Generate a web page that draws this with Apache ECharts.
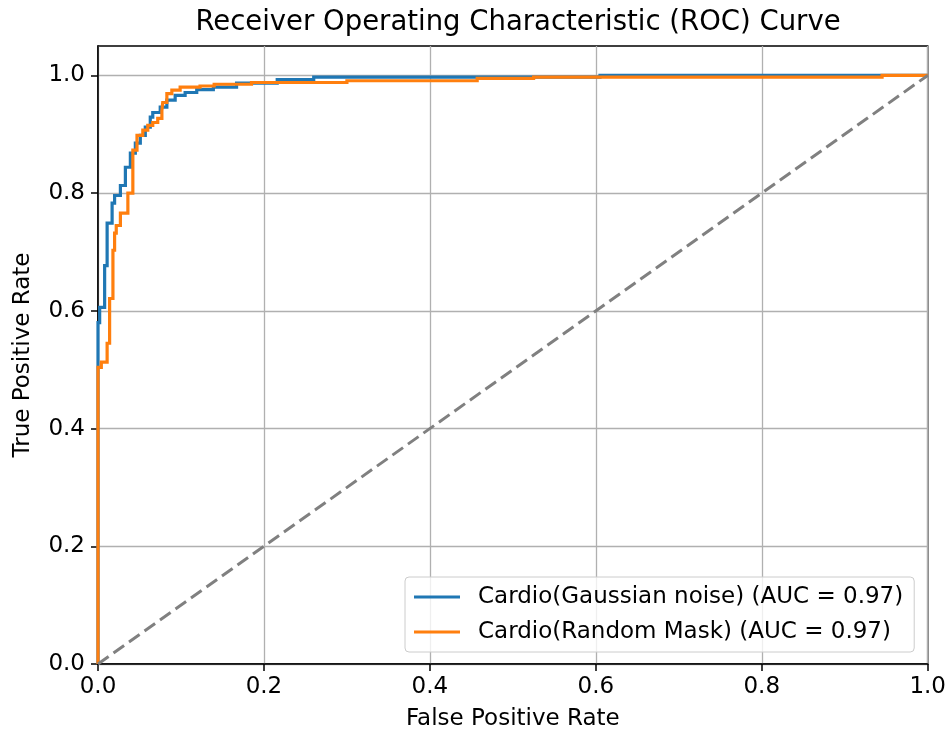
<!DOCTYPE html>
<html>
<head>
<meta charset="utf-8">
<script src="https://cdn.jsdelivr.net/npm/echarts@6/dist/echarts.min.js"></script>
<style>
  html, body { margin: 0; padding: 0; background: #fff; }
  #chart { width: 949px; height: 738px; }
</style>
</head>
<body>
<div id="chart"></div>
<script>
// ---- Data ----
const chartTitle = 'Receiver Operating Characteristic (ROC) Curve';
const xName = 'False Positive Rate';
const yName = 'True Positive Rate';
const tickValues = [0, 0.2, 0.4, 0.6, 0.8, 1.0];

const gaussName = 'Cardio(Gaussian noise) (AUC = 0.97)';
const gaussFpr = [0, 0, 0.002, 0.002, 0.008, 0.008, 0.011, 0.011, 0.017, 0.017, 0.020, 0.020, 0.027, 0.027,
  0.033, 0.033, 0.039, 0.039, 0.045, 0.045, 0.051, 0.051, 0.057, 0.057, 0.063, 0.063, 0.066, 0.066,
  0.075, 0.075, 0.083, 0.083, 0.093, 0.093, 0.105, 0.105, 0.119, 0.119, 0.139, 0.139, 0.167, 0.167,
  0.216, 0.216, 0.260, 0.260, 0.605, 0.605, 1.0];
const gaussTpr = [0, 0.580, 0.580, 0.606, 0.606, 0.677, 0.677, 0.749, 0.749, 0.783, 0.783, 0.796, 0.796, 0.813,
  0.813, 0.844, 0.844, 0.868, 0.868, 0.885, 0.885, 0.898, 0.898, 0.912, 0.912, 0.929, 0.929, 0.937,
  0.937, 0.946, 0.946, 0.958, 0.958, 0.966, 0.966, 0.971, 0.971, 0.976, 0.976, 0.980, 0.980, 0.987,
  0.987, 0.993, 0.993, 0.997, 0.997, 1.0, 1.0];

const maskName = 'Cardio(Random Mask) (AUC = 0.97)';
const maskFpr = [0, 0, 0.004, 0.004, 0.011, 0.011, 0.014, 0.014, 0.018, 0.018, 0.020, 0.020, 0.022, 0.022,
  0.027, 0.027, 0.036, 0.036, 0.042, 0.042, 0.047, 0.047, 0.054, 0.054, 0.060, 0.060, 0.066, 0.066,
  0.072, 0.072, 0.077, 0.077, 0.078, 0.083, 0.083, 0.089, 0.089, 0.099, 0.099, 0.123, 0.123, 0.140, 0.140,
  0.185, 0.185, 0.300, 0.300, 0.457, 0.457, 0.525, 0.525, 0.945, 0.945, 1.0];
const maskTpr = [0, 0.504, 0.504, 0.513, 0.513, 0.545, 0.545, 0.621, 0.621, 0.703, 0.703, 0.732, 0.732, 0.745,
  0.745, 0.766, 0.766, 0.800, 0.800, 0.873, 0.873, 0.898, 0.898, 0.907, 0.907, 0.915, 0.915, 0.920,
  0.920, 0.927, 0.927, 0.940, 0.954, 0.954, 0.969, 0.969, 0.975, 0.975, 0.980, 0.980, 0.982, 0.982, 0.985,
  0.985, 0.988, 0.988, 0.991, 0.991, 0.995, 0.995, 0.997, 0.997, 1.0, 1.0];

const chanceX = [0, 1];
const chanceY = [0, 1];

// ---- Build chart ----
const zip = (xs, ys) => xs.map((x, i) => [x, ys[i]]);
const FONT = 'DejaVu Sans';
const fmt = v => Number(v).toFixed(1);

const chart = echarts.init(document.getElementById('chart'), null, { renderer: 'canvas' });
chart.setOption({
  animation: false,
  backgroundColor: '#ffffff',
  title: {
    text: chartTitle,
    left: 513,
    top: 4,
    textAlign: 'center',
    textStyle: { fontFamily: FONT, fontSize: 27.5, fontWeight: 'normal', color: '#000' }
  },
  grid: {
    left: 98, right: 21, top: 46, bottom: 74,
    containLabel: false,
    show: true,
    borderColor: '#000',
    borderWidth: 1.5,
    backgroundColor: 'transparent'
  },
  legend: {
    orient: 'vertical',
    left: 405,
    top: 577,
    padding: [8.5, 11, 8.5, 9],
    itemGap: 12,
    itemWidth: 46,
    itemHeight: 3,
    backgroundColor: 'rgba(255,255,255,0.8)',
    borderColor: '#cccccc',
    borderWidth: 1,
    borderRadius: 4,
    textStyle: { fontFamily: FONT, fontSize: 23, lineHeight: 23, color: '#000', padding: [0, 0, 0, 13] },
    data: [
      { name: gaussName, icon: 'rect', itemStyle: { color: '#1f77b4', borderWidth: 0 }, lineStyle: { width: 0 } },
      { name: maskName, icon: 'rect', itemStyle: { color: '#ff7f0e', borderWidth: 0 }, lineStyle: { width: 0 } }
    ]
  },
  xAxis: {
    type: 'value',
    min: 0, max: 1, interval: 0.2,
    name: xName,
    nameLocation: 'middle',
    nameGap: 44,
    nameTextStyle: { fontFamily: FONT, fontSize: 23, color: '#000' },
    axisLine: { show: true, onZero: false, lineStyle: { color: '#000', width: 1.5 } },
    axisTick: { show: true, length: 7, lineStyle: { color: '#000', width: 1.5 } },
    axisLabel: { fontFamily: FONT, fontSize: 23, color: '#000', margin: 12, formatter: fmt,
                 showMinLabel: true, showMaxLabel: true },
    splitLine: { show: true, lineStyle: { color: '#b0b0b0', width: 1.3 } }
  },
  yAxis: {
    type: 'value',
    min: 0, max: 1.05, interval: 0.2,
    name: yName,
    nameLocation: 'middle',
    nameGap: 63,
    nameRotate: 90,
    nameTextStyle: { fontFamily: FONT, fontSize: 23, color: '#000' },
    axisLine: { show: true, onZero: false, lineStyle: { color: '#000', width: 1.5 } },
    axisTick: { show: true, length: 7, lineStyle: { color: '#000', width: 1.5 }, customValues: tickValues },
    axisLabel: { fontFamily: FONT, fontSize: 23, color: '#000', margin: 13, formatter: fmt,
                 customValues: tickValues },
    splitLine: { show: true, lineStyle: { color: '#b0b0b0', width: 1.3 } }
  },
  series: [
    {
      name: gaussName,
      type: 'lines',
      coordinateSystem: 'cartesian2d',
      polyline: true,
      silent: true,
      color: '#1f77b4',
      lineStyle: { color: '#1f77b4', width: 3.2, opacity: 1, curveness: 0 },
      data: [{ coords: zip(gaussFpr, gaussTpr) }],
      z: 3
    },
    {
      name: maskName,
      type: 'lines',
      coordinateSystem: 'cartesian2d',
      polyline: true,
      silent: true,
      color: '#ff7f0e',
      lineStyle: { color: '#ff7f0e', width: 3.2, opacity: 1, curveness: 0 },
      data: [{ coords: zip(maskFpr, maskTpr) }],
      z: 4
    },
    {
      name: 'chance',
      type: 'line',
      data: zip(chanceX, chanceY),
      showSymbol: false,
      symbol: 'none',
      silent: true,
      lineStyle: { color: '#808080', width: 3, type: [13, 6] },
      z: 5
    }
  ]
});
</script>
</body>
</html>
